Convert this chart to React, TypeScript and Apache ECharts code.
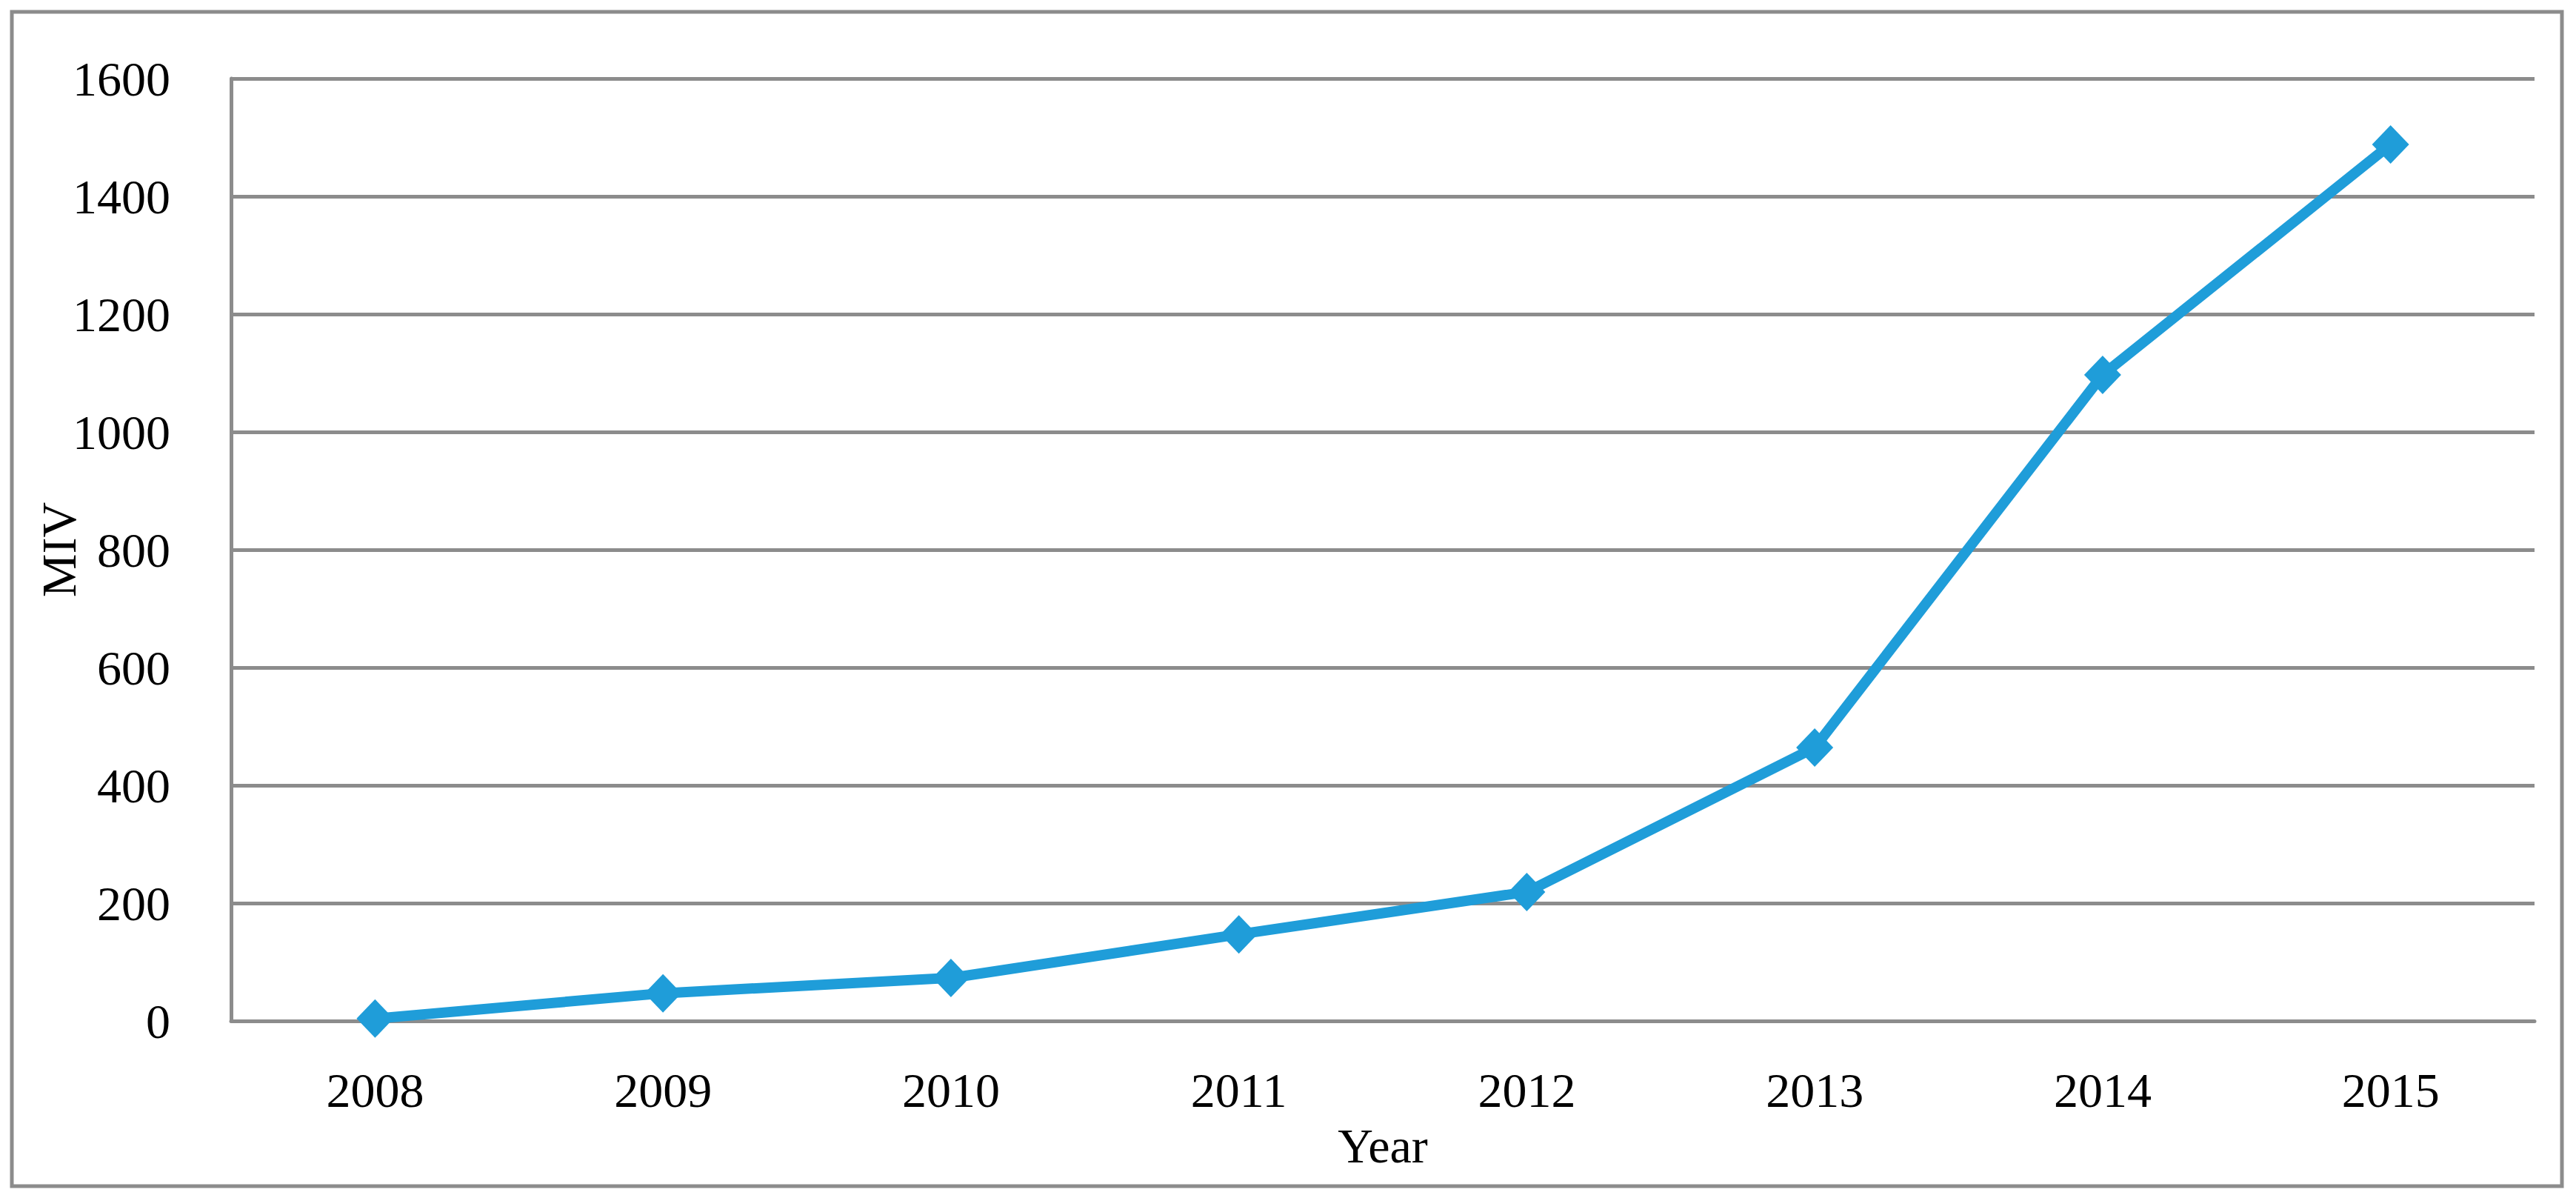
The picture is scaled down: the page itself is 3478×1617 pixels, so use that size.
import React, { useEffect, useRef } from "react";
import * as echarts from "echarts";

const years = ["2008", "2009", "2010", "2011", "2012", "2013", "2014", "2015"];
const mivValues = [4, 47, 73, 147, 219, 464, 1097, 1488];
const yTicks = { min: 0, max: 1600, interval: 200 };

const FONT = "'Liberation Serif', 'Times New Roman', serif";
const GRAY = "#8c8c8c";
const BLUE = "#1F9DD9";

export default function App() {
  const ref = useRef<HTMLDivElement>(null);
  useEffect(() => {
    if (!ref.current) return;
    const chart = echarts.init(ref.current, undefined, { renderer: "svg" });
    chart.setOption({
      animation: false,
      backgroundColor: "#ffffff",
      graphic: [
        {
          type: "rect",
          shape: { x: 16, y: 16, width: 3443, height: 1585 },
          style: { fill: "none", stroke: GRAY, lineWidth: 5 },
          silent: true,
          z: -1,
        },
      ],
      grid: { left: 312, right: 56, top: 106, bottom: 239, containLabel: false },
      xAxis: {
        type: "category",
        data: years,
        boundaryGap: true,
        name: "Year",
        nameLocation: "middle",
        nameGap: 135,
        nameTextStyle: { fontFamily: FONT, fontSize: 66, color: "#000" },
        axisLine: { show: true, lineStyle: { color: GRAY, width: 5 } },
        axisTick: { show: false },
        axisLabel: { fontFamily: FONT, fontSize: 66, color: "#000", margin: 60 },
        splitLine: { show: false },
      },
      yAxis: {
        type: "value",
        min: yTicks.min,
        max: yTicks.max,
        interval: yTicks.interval,
        name: "MIV",
        nameLocation: "middle",
        nameRotate: 90,
        nameGap: 200,
        nameMoveOverlap: false,
        nameTextStyle: { fontFamily: FONT, fontSize: 66, color: "#000" },
        axisLine: { show: true, lineStyle: { color: GRAY, width: 5 } },
        axisTick: { show: false },
        axisLabel: {
          fontFamily: FONT,
          fontSize: 66,
          color: "#000",
          margin: 82,
          formatter: (v: number) => String(v),
        },
        splitLine: { show: true, lineStyle: { color: GRAY, width: 5 } },
      },
      series: [
        {
          type: "line",
          data: mivValues,
          symbol: "diamond",
          symbolSize: [50, 52],
          showSymbol: true,
          lineStyle: { color: BLUE, width: 14 },
          itemStyle: { color: BLUE },
        },
      ],
    });
    return () => chart.dispose();
  }, []);
  return (
    <div
      ref={ref}
      style={{ position: "fixed", left: 0, top: 0, width: 3478, height: 1617, background: "#fff" }}
    />
  );
}
